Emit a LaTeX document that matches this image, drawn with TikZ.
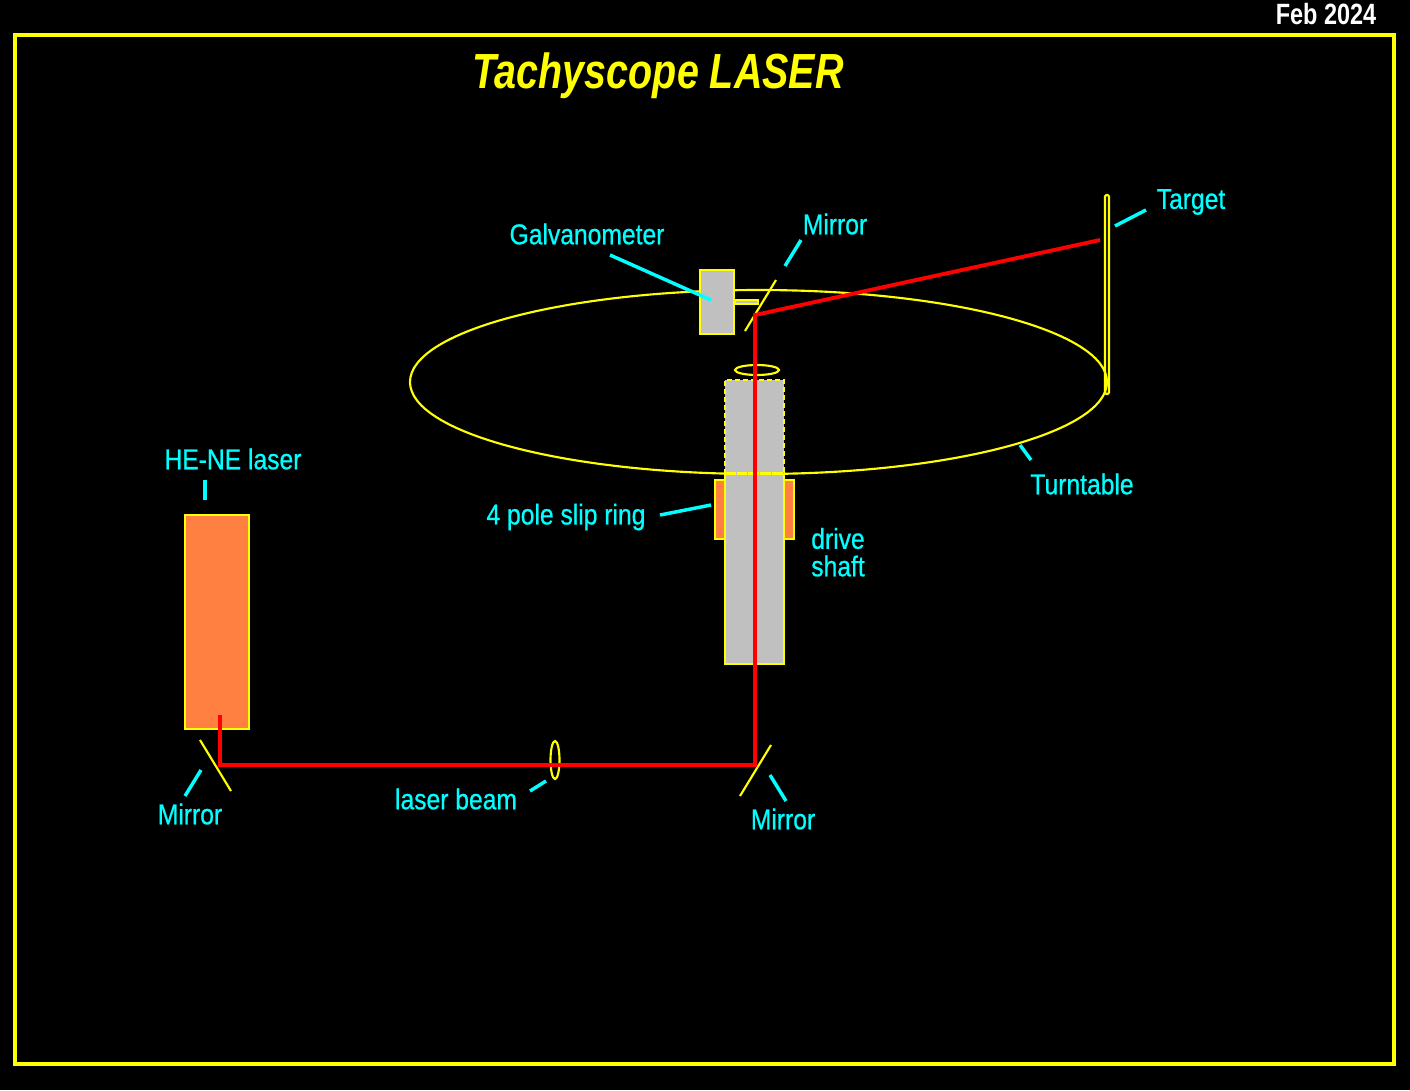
\documentclass[tikz,border=0pt]{standalone}
\usepackage{fontspec}
\setmainfont[FakeStretch=0.8]{Liberation Sans}
\newfontfamily\tagfont[FakeStretch=0.86,FakeBold=0.7]{Liberation Sans}
\usepackage{xcolor}
\usepackage{tikz}
\definecolor{laserorange}{RGB}{255,128,64}
\definecolor{shaftgray}{RGB}{192,192,192}
\definecolor{lineyellow}{RGB}{255,255,0}
\definecolor{tagcyan}{RGB}{0,255,255}
\tikzset{
 part/.style={draw=lineyellow,line width=1.6pt},
 beam/.style={draw=red,line width=2.9pt,line join=miter},
 leader/.style={draw=tagcyan,line width=2.6pt},
 tag/.style={text=tagcyan,font=\tagfont\fontsize{21.5}{21.5}\selectfont,inner sep=0pt,align=left},
}
\begin{document}
\begin{tikzpicture}[x=.75pt,y=-.75pt]
 \fill[black] (0,0) rectangle (1410,1090);
 \useasboundingbox (0,0) rectangle (1410,1090);
 \draw[lineyellow,line width=2.3pt] (15,35) rectangle (1394,1064);
 \node[text=white,font=\fontsize{22}{22}\selectfont\bfseries,inner sep=0pt] (date) at (1326,14) {Feb 2024};
 \node[text=lineyellow,font=\fontsize{37}{37}\selectfont\bfseries\itshape,inner sep=0pt] (title) at (658,76) {Tachyscope LASER};
 % turntable and what sits on it
 \draw[part] (758.5,382) ellipse (348.5 and 92);
 \draw[part,rounded corners=1pt] (1105,195) rectangle (1109,394);
 \draw[part,fill=shaftgray] (700,270) rectangle (734,334);
 \draw[part,fill=shaftgray] (735,300) rectangle (758,304);
 \draw[part] (757,370) ellipse (22 and 5);
 % slip ring and drive shaft
 \draw[part,fill=laserorange] (715,480) rectangle (794,539);
 \fill[shaftgray] (725,380) rectangle (784,664);
 \draw[part,dash pattern=on 4pt off 2pt] (725,474)--(725,380)--(784,380)--(784,474);
 \draw[part] (725,474)--(725,664)--(784,664)--(784,474);
 \draw[part,dash pattern=on 8pt off .8pt] (725,473.5)--(784,473.5);
 % laser
 \draw[part,fill=laserorange] (185,515) rectangle (249,729);
 % mirrors and beam
 \draw[part] (200,740)--(231,791);
 \draw[part] (740,796)--(771,745);
 \draw[part] (745,331)--(776,280);
 \draw[part] (555,760) ellipse (4.5 and 19);
 \coordinate (laserout) at (220,715);
 \coordinate (mirrorA) at (220,765);
 \coordinate (mirrorB) at (755,765);
 \coordinate (mirrorC) at (755,315);
 \coordinate (targetspot) at (1100,240);
 \draw[beam] (laserout)--(mirrorA)--(mirrorB)--(mirrorC)--(targetspot);
 % labels
 \node[tag] (galvolbl) at (587,234) {Galvanometer};
 \node[tag] (mirrorClbl) at (835,224) {Mirror};
 \node[tag] (targetlbl) at (1191,202) {Target};
 \node[tag] (tablelbl) at (1082,484) {Turntable};
 \node[tag] (laserlbl) at (233,459) {HE-NE laser};
 \node[tag] (ringlbl) at (566,517) {4 pole slip ring};
 \node[tag] (drivelbl) at (838,538.5) {drive};
 \node[tag] (shaftlbl) at (838,566) {shaft};
 \node[tag] (mirrorAlbl) at (190,814) {Mirror};
 \node[tag] (beamlbl) at (456,799) {laser beam};
 \node[tag] (mirrorBlbl) at (783,819) {Mirror};
 % leader lines
 \draw[leader] (610,255) coordinate (galvoA)--(711,300) coordinate (galvoB);
 \draw[leader] (785,266) coordinate (mirrorCA)--(801,240) coordinate (mirrorCB);
 \draw[leader] (1115,226) coordinate (targetA)--(1146,210) coordinate (targetB);
 \draw[leader] (1020,445) coordinate (tableA)--(1031,460) coordinate (tableB);
 \draw[leader] (205,480) coordinate (laserA)--(205,500) coordinate (laserB);
 \draw[leader] (660,515) coordinate (ringA)--(711,505) coordinate (ringB);
 \draw[leader] (185,796) coordinate (mirrorAA)--(201,770) coordinate (mirrorAB);
 \draw[leader] (530,791) coordinate (beamA)--(546,781) coordinate (beamB);
 \draw[leader] (770,775) coordinate (mirrorBA)--(786,801) coordinate (mirrorBB);
\end{tikzpicture}
\end{document}
